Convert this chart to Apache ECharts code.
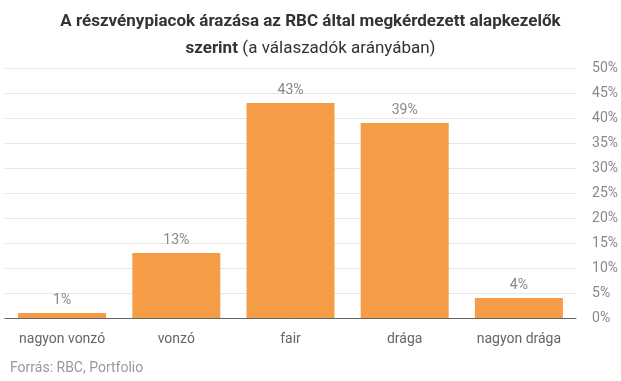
<!DOCTYPE html>
<html><head><meta charset="utf-8">
<script src="https://cdn.jsdelivr.net/npm/echarts@6/dist/echarts.min.js"></script>
<style>html,body{margin:0;padding:0;background:#fff}#c{width:621px;height:381px}</style>
</head><body><div id="c"></div>
<script>
const categories = ['nagyon vonzó', 'vonzó', 'fair', 'drága', 'nagyon drága'];
const values = [1, 13, 43, 39, 4];
const yTicks = [0, 5, 10, 15, 20, 25, 30, 35, 40, 45, 50];

const chart = echarts.init(document.getElementById('c'), null, {renderer: 'canvas'});
chart.setOption({
  animation: false,
  backgroundColor: '#fff',
  textStyle: {fontFamily: 'Roboto'},
  title: {
    left: 'center', top: 3,
    text: '{b|A részvénypiacok árazása az RBC által megkérdezett alapkezelők}\n{b|szerint} {n|(a válaszadók arányában)}',
    textStyle: {
      rich: {
        b: {fontFamily: 'Roboto', fontWeight: 'bold', fontSize: 17, color: '#333', lineHeight: 27},
        n: {fontFamily: 'Roboto', fontWeight: 'normal', fontSize: 17, color: '#333', lineHeight: 27}
      }
    }
  },
  graphic: [{
    type: 'text', left: 10, top: 361,
    style: {text: 'Forrás: RBC, Portfolio', fill: '#999', font: '14px Roboto'}
  }],
  grid: {left: 5, right: 41, top: 68, bottom: 63, containLabel: false},
  xAxis: {
    type: 'category', data: categories,
    axisLine: {lineStyle: {color: '#666', width: 1}},
    axisTick: {show: false},
    axisLabel: {color: '#666', fontSize: 14, margin: 14, fontFamily: 'Roboto'}
  },
  yAxis: {
    type: 'value', position: 'right', min: 0, max: 50, interval: 5,
    axisLine: {show: false}, axisTick: {show: false},
    axisLabel: {color: '#888', fontSize: 14, margin: 16, fontFamily: 'Roboto', formatter: v => yTicks.includes(v) ? v + '%' : ''},
    splitLine: {lineStyle: {color: '#e6e6e6'}}
  },
  series: [{
    type: 'bar', data: values, barWidth: 88,
    itemStyle: {color: '#f59c46'},
    label: {show: true, position: 'top', color: '#888', fontSize: 14, distance: 6, fontFamily: 'Roboto', formatter: p => p.value + '%'}
  }]
});
</script></body></html>
